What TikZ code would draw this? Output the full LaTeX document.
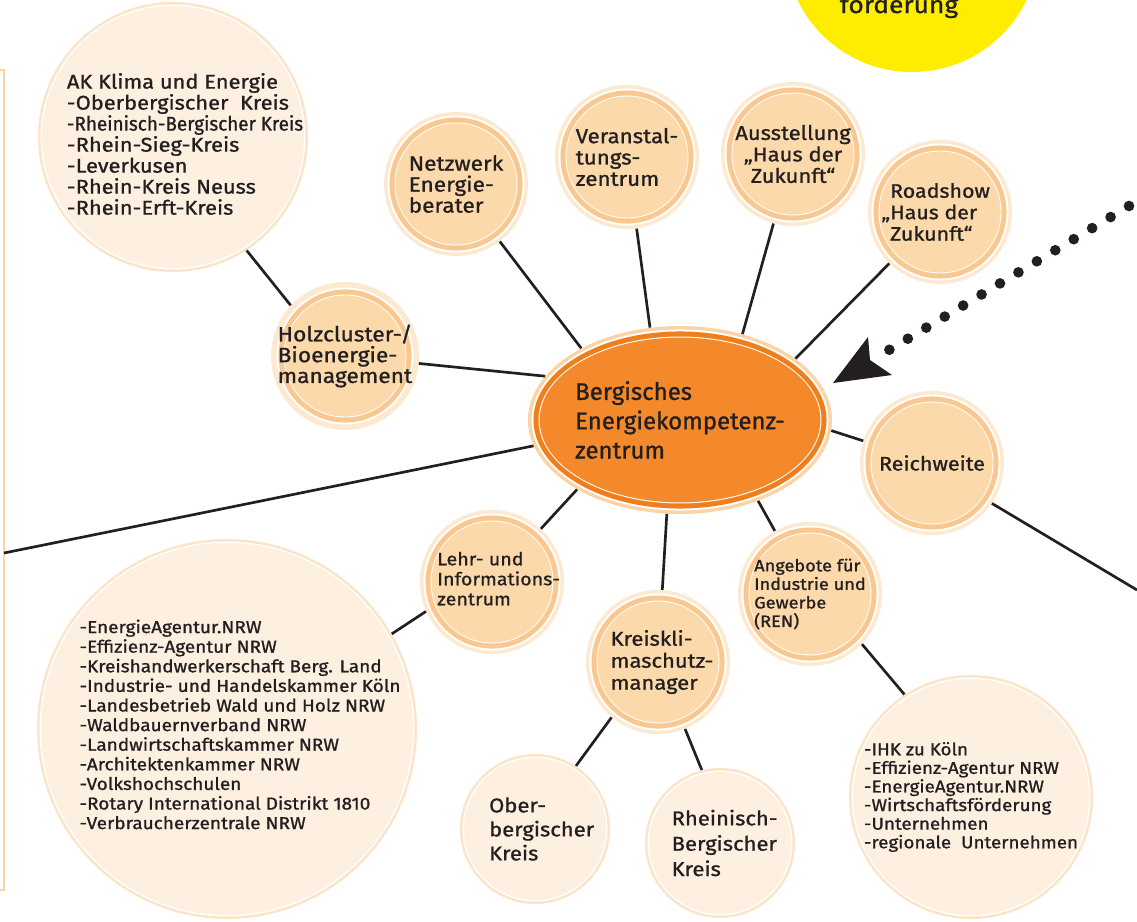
\documentclass[tikz,border=0pt]{standalone}
\usepackage{fontspec}
\setmainfont{Fira Sans}[FakeStretch=1.1, FakeBold=1]
\newfontfamily\condfont{Fira Sans}[FakeStretch=0.95, FakeBold=1]
\newfontfamily\plainfont{Fira Sans}[FakeBold=1]
\usetikzlibrary{shapes.geometric}
\definecolor{txt}{HTML}{231F20}
\definecolor{bubedge}{HTML}{FDE8D0}
\definecolor{bubring}{HTML}{F9C890}
\definecolor{bubfill}{HTML}{FCD9AA}
\definecolor{listedge}{HTML}{FCE4C8}
\definecolor{listfill}{HTML}{FDF0E0}
\definecolor{ellpale}{HTML}{FBD3A5}
\definecolor{ellring}{HTML}{EF7E1C}
\definecolor{ellfill}{HTML}{F3892B}
\definecolor{ylw}{HTML}{FFED00}
\definecolor{border}{HTML}{FBD5A4}
\tikzset{
  bub/.style={circle, inner sep=0pt, minimum size=108pt, fill=bubedge, text=txt, align=left,
    path picture={
      \fill[white] (path picture bounding box.center) circle (51.4pt);
      \fill[bubring] (path picture bounding box.center) circle (49.9pt);
      \fill[white] (path picture bounding box.center) circle (46.1pt);
      \fill[bubfill] (path picture bounding box.center) circle (45.4pt);}},
  listbub/.style={circle, inner sep=0pt, minimum size=2*#1, fill=listedge, text=txt, align=left,
    path picture={
      \fill[white] (path picture bounding box.center) circle (#1-1.9pt);
      \fill[listfill] (path picture bounding box.center) circle (#1-3pt);}},
  conn/.style={draw=txt, line width=2pt},
  lbl/.style={text=txt, align=left, inner sep=0pt}
}
\begin{document}
\begin{tikzpicture}[x=0.75pt,y=-0.75pt]
\clip (0,0) rectangle (1137,921);
% left frame edge
\draw[border, line width=2pt] (0,70) -- (4,70) -- (4,890) -- (0,890);
% yellow bubble
\node[circle, fill=ylw, inner sep=0pt, minimum size=190.5pt] (ylwc) at (912,-55) {};
\node[anchor=base, text=txt, inner sep=0pt, font=\fontsize{18pt}{20pt}\selectfont] (foerd) at (899,13) {förderung};

% central ellipse
\node[ellipse, minimum width=228pt, minimum height=141pt, inner sep=0pt, fill=ellpale, text=txt, align=left,
  font=\plainfont\fontsize{18pt}{22pt}\selectfont,
  path picture={
    \fill[white] (path picture bounding box.center) ellipse (111.4pt and 67.9pt);
    \fill[ellring] (path picture bounding box.center) ellipse (109.9pt and 66.4pt);
    \fill[white] (path picture bounding box.center) ellipse (106.1pt and 62.6pt);
    \fill[ellfill] (path picture bounding box.center) ellipse (105.3pt and 61.8pt);}]
  (ell) at (680,420) {Bergisches\\Energiekompetenz-\\zentrum};

% list bubbles
\node[listbub=101.25pt, label={[lbl, xshift=9pt, yshift=-5.25pt, font=\fontsize{14.9pt}{15.75pt}\selectfont]center:{AK Klima und Energie\\-Oberbergischer\ \ Kreis\\{\condfont -Rheinisch-Bergischer Kreis}\\-Rhein-Sieg-Kreis\\-Leverkusen\\-Rhein-Kreis Neuss\\-Rhein-Erft-Kreis}}] (ak) at (173,137) {};
\node[listbub=142.5pt, label={[lbl, xshift=9.75pt, yshift=3.4pt, font=\fontsize{12.95pt}{14.7pt}\selectfont]center:{-EnergieAgentur.NRW\\-Effizienz-Agentur NRW\\-Kreishandwerkerschaft Berg. Land\\-Industrie- und Handelskammer Köln\\-Landesbetrieb Wald und Holz NRW\\-Waldbauernverband NRW\\-Landwirtschaftskammer NRW\\-Architektenkammer NRW\\-Volkshochschulen\\-Rotary International Distrikt 1810\\-Verbraucherzentrale NRW}}] (big) at (227,729) {};
\node[listbub=91.5pt, font=\fontsize{12.8pt}{13.95pt}\selectfont] (ihk) at (971,797) {-IHK zu Köln\\-Effizienz-Agentur NRW\\-EnergieAgentur.NRW\\-Wirtschaftsförderung\\-Unternehmen\\-regionale\ \ Unternehmen};
\node[listbub=56.25pt, label={[lbl, xshift=5pt, font=\fontsize{15pt}{18pt}\selectfont]center:{Ober-\\bergischer\\Kreis}}] (ober) at (535,829) {};
\node[listbub=56.25pt, label={[lbl, xshift=3.5pt, font=\fontsize{15pt}{19pt}\selectfont]center:{Rheinisch-\\Bergischer\\Kreis}}] (rhein) at (720,843) {};

% medium bubbles
\node[bub, font=\fontsize{15.5pt}{15.6pt}\selectfont] (holz) at (345,356) {Holzcluster-/\\Bioenergie-\\management};
\node[bub, font=\fontsize{15.4pt}{15.75pt}\selectfont] (netz) at (456,184) {Netzwerk\\Energie-\\berater};
\node[bub, font=\fontsize{15.2pt}{16pt}\selectfont] (veran) at (627,157) {Veranstal-\\tungs-\\zentrum};
\node[bub, align=center, font=\fontsize{15pt}{16.1pt}\selectfont] (ausst) at (793,154) {Ausstellung\\„Haus der\\Zukunft“};
\node[bub, font=\fontsize{14.6pt}{16.1pt}\selectfont] (road) at (940,212) {Roadshow\\\llap{„}Haus der\\Zukunft“};
\node[bub, font=\fontsize{14.7pt}{16pt}\selectfont] (reich) at (932,463) {Reichweite};
\node[bub, font=\fontsize{12.4pt}{13.9pt}\selectfont] (ang) at (810,594) {Angebote für\\Industrie und\\Gewerbe\\(REN)};
\node[bub, label={[lbl, xshift=3pt, font=\fontsize{15pt}{16.5pt}\selectfont]center:{Kreiskli-\\maschutz-\\manager}}] (kreis) at (658,662) {};
\node[bub, label={[lbl, xshift=5pt, yshift=2.5pt, font=\fontsize{13.4pt}{15pt}\selectfont]center:{Lehr- und\\Informations-\\zentrum}}] (lehr) at (492,582) {};

% free ends
\coordinate (leftend) at (4,553);
\coordinate (rightend) at (1137,590);

% connectors
\draw[conn] (ak.-57) -- (holz.137);
\draw[conn] (holz) -- (ell.162);
\draw[conn] (netz) -- (ell.144.6);
\draw[conn] (veran) -- (ell.108.4);
\draw[conn] (ausst) -- (ell.54.1);
\draw[conn] (road) -- (ell.28.3);
\draw[conn] (ell.-4.5) -- (reich);
\draw[conn] (reich.-34.6) -- (rightend);
\draw[conn] (ell.190.8) -- (leftend);
\draw[conn] (ell.214.95) -- (lehr);
\draw[conn] (ell.262.8) -- (kreis);
\draw[conn] (ell.314.3) -- (ang);
\draw[conn] (lehr.204) -- (big.30.6);
\draw[conn] (kreis.230.6) -- (ober.57);
\draw[conn] (kreis.-68.3) -- (rhein.104);
\draw[conn] (ang.-44.4) -- (ihk.123);

% dotted arrow
\coordinate (dotA) at (1129,206);
\coordinate (dotB) at (889,350);
\coordinate (tip) at (833,383);
\coordinate (wingA) at (868,337);
\coordinate (notch) at (870,360);
\coordinate (wingB) at (892,375);
\draw[txt, line width=8pt, line cap=round, dash pattern=on 0pt off 16.12pt] (dotA) -- (dotB);
\fill[txt] (tip) -- (wingA) -- (notch) -- (wingB) -- cycle;
\end{tikzpicture}
\end{document}
